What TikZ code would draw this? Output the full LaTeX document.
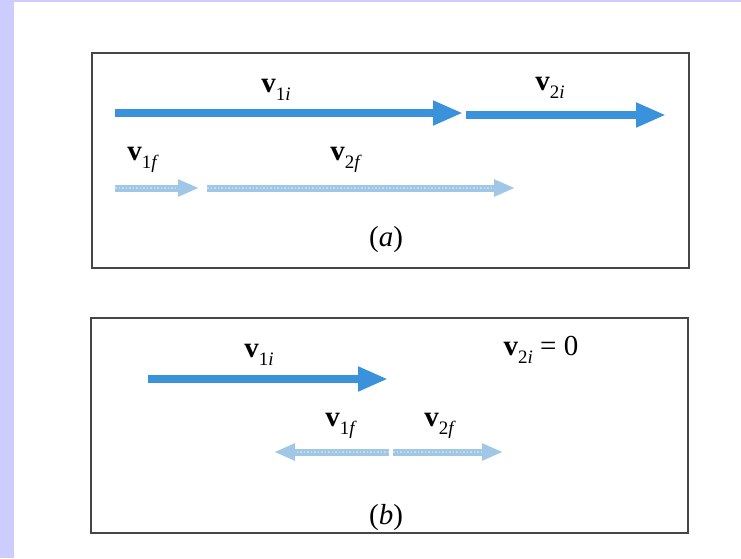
\documentclass[tikz,border=0pt]{standalone}
\usepackage{fontspec}
\setmainfont{Liberation Serif}
\usetikzlibrary{arrows.meta}
\definecolor{lav}{RGB}{204,204,255}
\definecolor{arrblue}{RGB}{58,146,218}
\definecolor{lightarr}{RGB}{160,200,230}
\definecolor{boxgray}{RGB}{70,70,70}
\newcommand\vlab[2]{\textbf{v}\raisebox{-0.28em}{\fontsize{19}{19}\selectfont #1\textit{#2}}}
\tikzset{
  panel/.style={draw=boxgray, line width=1.8pt},
  bluearr/.style={draw=arrblue, line width=8.5pt, -{Triangle[length=30pt,width=23pt]}},
  lightarrow/.style={draw=lightarr, line width=7pt, -{Triangle[length=21pt,width=16pt]},
     postaction={draw=white!35!lightarr, line width=1.4pt, dash pattern=on 1.5pt off 2pt, -, shorten >=21pt}},
  lab/.style={inner sep=0pt, font=\fontsize{29}{33}\selectfont},
}
\begin{document}
\begin{tikzpicture}[x=1pt,y=-1pt]
\useasboundingbox (0,0) rectangle (741,558);
\fill[lav] (0,0) rectangle (741,558);
\fill[white] (14,2) rectangle (741,558);
% panel (a)
\draw[panel] (92,53) rectangle (689,268);
\coordinate (a1s) at (115,113);
\coordinate (a1e) at (463,113);
\coordinate (a2s) at (466,115);
\coordinate (a2e) at (666,115);
\draw[bluearr] (a1s) -- (a1e);
\draw[bluearr] (a2s) -- (a2e);
\node[lab] (va1i) at (276,90) {\vlab{1}{i}};
\node[lab] (va2i) at (550,88) {\vlab{2}{i}};
\coordinate (a3s) at (115,188);
\coordinate (a3e) at (199,188);
\coordinate (a4s) at (207,188);
\coordinate (a4e) at (515,188);
\draw[lightarrow] (a3s) -- (a3e);
\draw[lightarrow] (a4s) -- (a4e);
\node[lab] (va1f) at (143,160) {\vlab{1}{f}};
\node[lab] (va2f) at (346,160) {\vlab{2}{f}};
\node[lab] (capa) at (386,240) {(\textit{a})};
% panel (b)
\draw[panel] (91,318) rectangle (688,533);
\coordinate (b1s) at (148,379);
\coordinate (b1e) at (388,379);
\draw[bluearr] (b1s) -- (b1e);
\node[lab] (vb1i) at (259,355) {\vlab{1}{i}};
\node[lab] (vb2i) at (541,350) {\vlab{2}{i} = 0};
\coordinate (b0) at (389,452);
\coordinate (b2e) at (274,452);
\coordinate (b3s) at (393,452);
\coordinate (b3e) at (503,452);
\draw[lightarrow] (b0) -- (b2e);
\draw[lightarrow] (b3s) -- (b3e);
\node[lab] (vb1f) at (341,426) {\vlab{1}{f}};
\node[lab] (vb2f) at (440,426) {\vlab{2}{f}};
\node[lab] (capb) at (386,518) {(\textit{b})};
\end{tikzpicture}
\end{document}
